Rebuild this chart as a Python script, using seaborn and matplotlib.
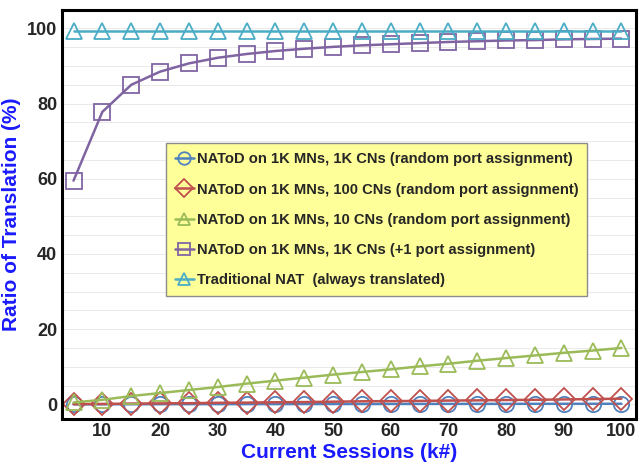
import pandas as pd
import numpy as np
import seaborn as sns
import matplotlib.pyplot as plt

sessions = [5, 10, 15, 20, 25, 30, 35, 40, 45, 50, 55, 60, 65, 70, 75, 80, 85, 90, 95, 100]
blue_1k = [0.0, 0.01, 0.02, 0.03, 0.04, 0.05, 0.05, 0.06, 0.07, 0.08, 0.08, 0.09, 0.1, 0.11, 0.11, 0.12, 0.13, 0.14, 0.14, 0.15]
red_100 = [0.05, 0.1, 0.2, 0.25, 0.3, 0.4, 0.45, 0.55, 0.6, 0.7, 0.8, 0.85, 0.9, 1.0, 1.05, 1.15, 1.2, 1.3, 1.4, 1.5]
green_10 = [0.5, 1.2, 2.2, 3.0, 3.8, 4.6, 5.5, 6.3, 7.1, 7.9, 8.6, 9.3, 10.1, 10.8, 11.6, 12.3, 13.0, 13.7, 14.3, 15.0]
purple_plus1 = [59.5, 77.8, 85.0, 88.5, 90.7, 92.2, 93.2, 94.0, 94.6, 95.1, 95.5, 95.8, 96.1, 96.4, 96.6, 96.8, 96.9, 97.1, 97.2, 97.3]
cyan_nat = [99.2] * 20

labels = [
    "NAToD on 1K MNs, 1K CNs (random port assignment)",
    "NAToD on 1K MNs, 100 CNs (random port assignment)",
    "NAToD on 1K MNs, 10 CNs (random port assignment)",
    "NAToD on 1K MNs, 1K CNs (+1 port assignment)",
    "Traditional NAT  (always translated)",
]
series = [blue_1k, red_100, green_10, purple_plus1, cyan_nat]
colors = ["#4F81BD", "#C0504D", "#9BBB59", "#8064A2", "#4BACC6"]
markers = ["o", "D", "^", "s", "^"]

df = pd.concat([pd.DataFrame({"x": sessions, "y": s, "series": l}) for s, l in zip(series, labels)])

sns.set_style("white")
plt.rcParams['font.family'] = ['Liberation Sans', 'DejaVu Sans']
plt.rcParams['font.weight'] = 'bold'

fig, ax = plt.subplots(figsize=(6.39, 4.73), dpi=100)
for y in np.arange(0, 105, 5):
    ax.axhline(y, color="#e6e6e6", lw=0.6, zorder=0)

sns.lineplot(data=df, x="x", y="y", hue="series", style="series",
             palette=colors, markers=markers, dashes=False, lw=1.8,
             markersize=11, markeredgewidth=1.3, ax=ax, legend=True)
# hollow markers, coloured edges
for line in ax.lines:
    if line.get_marker() not in (None, "None", ""):
        line.set_markeredgecolor(line.get_color())
        line.set_markerfacecolor("none")

ax.set_xlim(3, 102.5)
ax.set_ylim(-3.8, 104.8)
ax.set_xticks(range(10, 101, 10))
ax.set_yticks(range(0, 101, 20))
ax.tick_params(labelsize=13, length=0)
for t in ax.get_xticklabels() + ax.get_yticklabels():
    t.set_fontweight("bold")
ax.set_xlabel("Current Sessions (k#)", color="#1a1aff", fontsize=15, fontweight="bold", labelpad=2)
ax.set_ylabel("Ratio of Translation (%)", color="#1a1aff", fontsize=15, fontweight="bold", labelpad=4)
for sp in ax.spines.values():
    sp.set_color("black")
    sp.set_linewidth(2.2)

leg = ax.legend(loc="upper left", bbox_to_anchor=(0.181, 0.674), borderaxespad=0,
                frameon=True, fancybox=False,
                prop={"size": 10.6, "weight": "bold"}, handlelength=1.3, handletextpad=0.2,
                labelspacing=1.1, borderpad=0.6)
leg.get_frame().set_facecolor("#FFFF99")
leg.get_frame().set_edgecolor("#8c8c8c")
leg.get_frame().set_alpha(1)
for h, c in zip(leg.legend_handles, colors):
    h.set_markerfacecolor("none")
    h.set_markeredgecolor(c)
    h.set_markersize(9)

plt.subplots_adjust(left=0.097, right=0.995, top=0.978, bottom=0.115)
plt.savefig("out.png", dpi=100)
